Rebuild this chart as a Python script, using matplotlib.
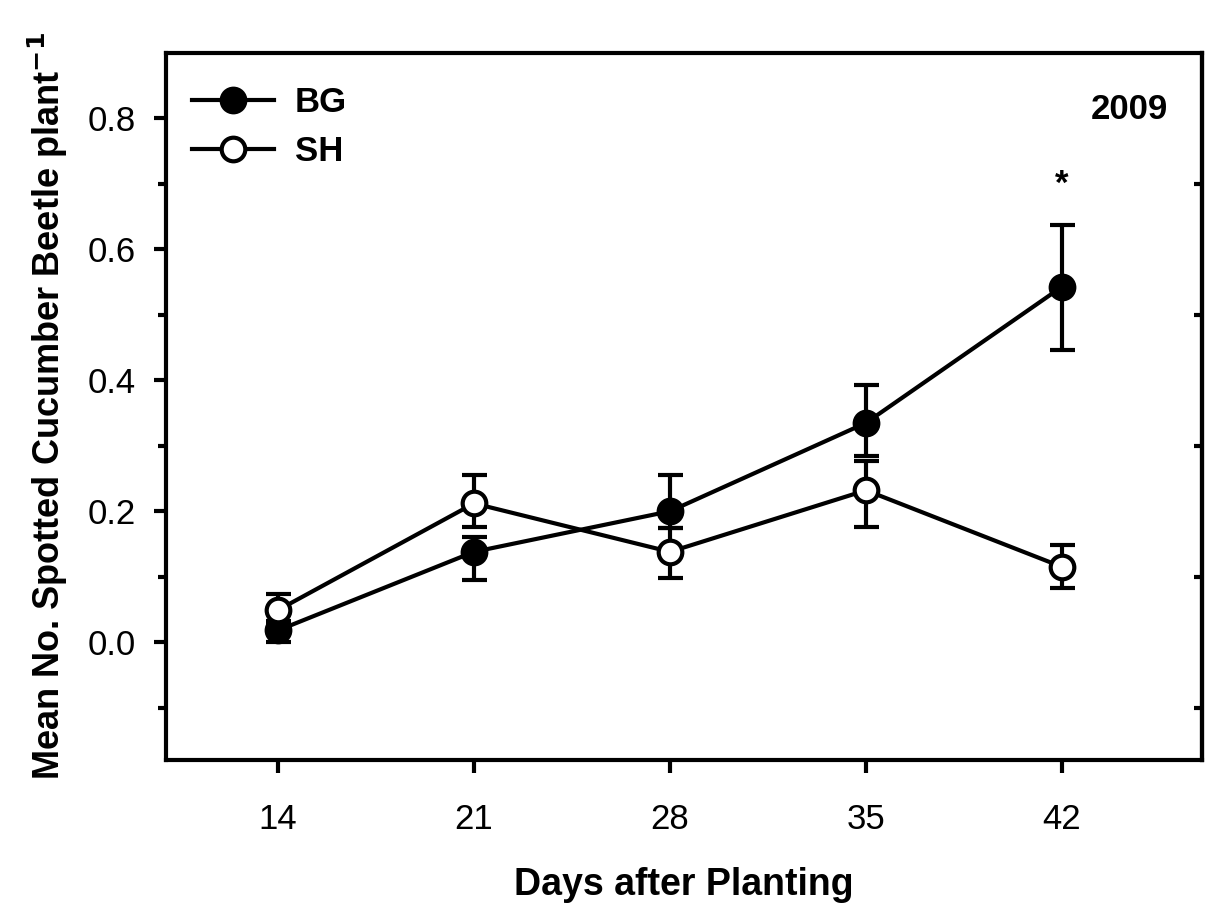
import matplotlib
matplotlib.use("Agg")
import matplotlib.pyplot as plt
from matplotlib.lines import Line2D

plt.rcParams['font.family'] = ['Liberation Sans', 'DejaVu Sans']

days = [14, 21, 28, 35, 42]
bg_mean = [0.018, 0.138, 0.200, 0.335, 0.543]
bg_err_low = [0.018, 0.043, 0.026, 0.051, 0.096]
bg_err_high = [0.015, 0.022, 0.056, 0.058, 0.094]
sh_mean = [0.049, 0.212, 0.138, 0.232, 0.115]
sh_err_low = [0.020, 0.036, 0.040, 0.056, 0.033]
sh_err_high = [0.024, 0.044, 0.037, 0.044, 0.033]
major_yticks = [0.0, 0.2, 0.4, 0.6, 0.8]
minor_yticks = [-0.1, 0.1, 0.3, 0.5, 0.7]
xticks = [14, 21, 28, 35, 42]

fig = plt.figure(figsize=(12.07, 9.09), dpi=100)
ax = fig.add_axes([0.1375, 0.1639, 0.8584, 0.7778])

lw = 3.0
ms = 17
ax.errorbar(days, bg_mean, yerr=[bg_err_low, bg_err_high], color='black', lw=lw,
            marker='o', ms=ms, mfc='black', mec='black', mew=lw,
            capsize=9, capthick=lw, elinewidth=lw, zorder=3)
ax.errorbar(days, sh_mean, yerr=[sh_err_low, sh_err_high], color='black', lw=lw,
            marker='o', ms=ms, mfc='white', mec='black', mew=lw,
            capsize=9, capthick=lw, elinewidth=lw, zorder=4)

ax.set_xlim(10, 47)
ax.set_ylim(-0.18, 0.9)
ax.set_xticks(xticks)
ax.set_xticklabels([str(d) for d in xticks])
ax.set_yticks(major_yticks)
ax.set_yticklabels([f"{v:.1f}" for v in major_yticks])
ax.set_yticks(minor_yticks, minor=True)

for s in ax.spines.values():
    s.set_linewidth(lw)

ax.tick_params(axis='both', which='major', direction='out', length=9, width=lw,
               labelsize=25, pad=13)
ax.tick_params(axis='x', which='major', pad=22)
ax.tick_params(axis='y', which='minor', direction='out', length=6, width=lw)
ax.tick_params(top=False, right=False)

sec = ax.secondary_yaxis('right')
sec.set_yticks([])
sec.set_yticks(minor_yticks, minor=True)
sec.tick_params(which='minor', direction='in', length=6, width=lw, labelright=False)
sec.spines['right'].set_linewidth(lw)

ax.set_xlabel('Days after Planting', fontsize=27, fontweight='bold', labelpad=22)
ax.set_ylabel('Mean No. Spotted Cucumber Beetle plant$^{\\mathbf{-1}}$', fontsize=26,
              fontweight='bold', labelpad=12)

handles = [Line2D([], [], color='black', lw=lw, marker='o', ms=ms, mfc='black', mec='black', mew=lw),
           Line2D([], [], color='black', lw=lw, marker='o', ms=ms, mfc='white', mec='black', mew=lw)]
leg = ax.legend(handles, ['BG', 'SH'], loc='upper left', frameon=False,
                prop={'size': 25, 'weight': 'bold'}, handlelength=2.35,
                handletextpad=0.6, labelspacing=0.45,
                bbox_to_anchor=(-0.008, 1.002), borderaxespad=0.6)

ax.text(0.967, 0.92, '2009', transform=ax.transAxes, ha='right', va='center',
        fontsize=25, fontweight='bold')
ax.text(42, 0.70, '*', ha='center', va='center', fontsize=25, fontweight='bold')

fig.savefig('out.png', dpi=100)
